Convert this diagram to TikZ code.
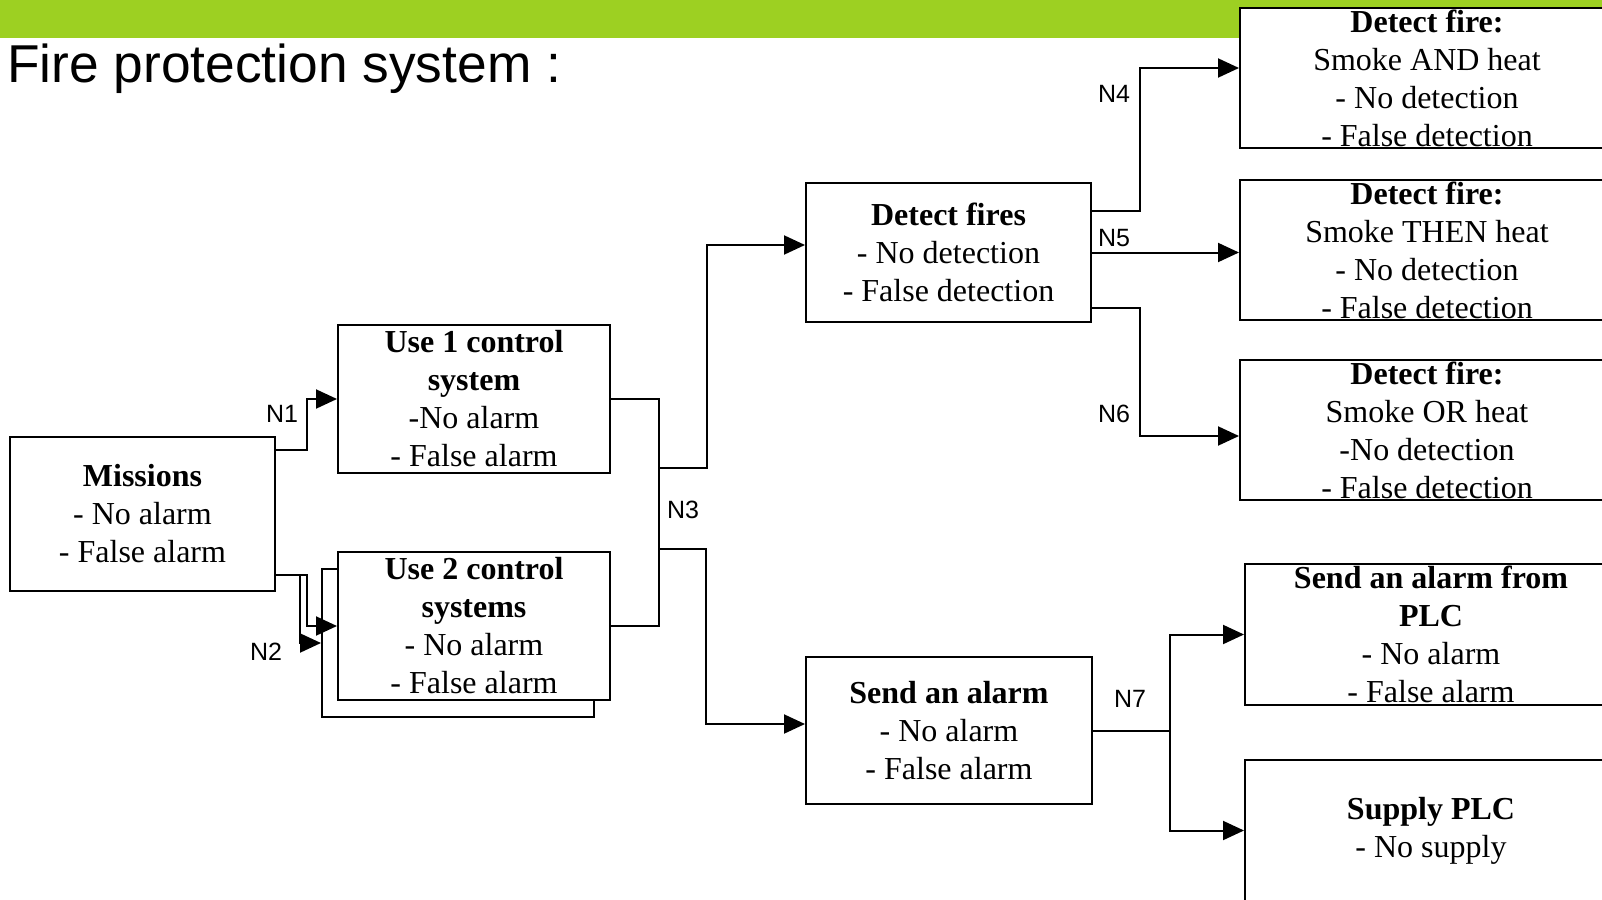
\documentclass[tikz,border=0pt]{standalone}
\usepackage{fontspec}
\setmainfont{Liberation Serif}
\newfontfamily\labelfont{Liberation Sans}
\usetikzlibrary{arrows.meta,calc}
\definecolor{barGreen}{RGB}{157,208,34}
\begin{document}
\begin{tikzpicture}[x=1pt,y=-1pt,
  box/.style={draw=black, line width=2pt, fill=white, inner sep=0pt},
  txt/.style={align=center, inner sep=0pt, font=\fontsize{32}{38}\selectfont},
  lbl/.style={font=\labelfont\fontsize{25}{30}\selectfont, inner sep=0pt},
  wire/.style={line width=2pt},
  arr/.style={wire, -{Triangle[length=21pt,width=19pt]}},
]
\useasboundingbox (0,0) rectangle (1602,899);
\clip (0,0) rectangle (1602,899);

% header bar and title
\fill[barGreen] (0,0) rectangle (1602,38);
\node[anchor=base west, inner sep=0pt, font=\labelfont\fontsize{53.3}{60}\selectfont] (title) at (7,82) {Fire protection system :};

% boxes
\node[box, minimum width=265, minimum height=154] (m) at (142.5,514) {};
\node[box, minimum width=272, minimum height=148] (u1) at (474,399) {};
\node[box, minimum width=272, minimum height=148] (u2b) at (458,643) {};
\node[box, minimum width=272, minimum height=148] (u2) at (474,626) {};
\node[box, minimum width=285, minimum height=139] (df) at (948.5,252.5) {};
\node[box, minimum width=286, minimum height=147] (sa) at (949,730.5) {};
\node[box, minimum width=374, minimum height=140] (r1) at (1427,78) {};
\node[box, minimum width=374, minimum height=140] (r2) at (1427,250) {};
\node[box, minimum width=374, minimum height=140] (r3) at (1427,430) {};
\node[box, minimum width=372, minimum height=141] (r4) at (1431,634.5) {};
\node[box, minimum width=372, minimum height=141] (r5) at (1431,830.5) {};

% box texts
\node[txt] (mt) at (m.center) {\textbf{Missions}\\- No alarm\\- False alarm};
\node[txt] (u1t) at (u1.center) {\textbf{Use 1 control}\\\textbf{system}\\-No alarm\\- False alarm};
\node[txt] (u2t) at (u2.center) {\textbf{Use 2 control}\\\textbf{systems}\\- No alarm\\- False alarm};
\node[txt] (dft) at (df.center) {\textbf{Detect fires}\\- No detection\\- False detection};
\node[txt] (sat) at (sa.center) {\textbf{Send an alarm}\\- No alarm\\- False alarm};
\node[txt] (r1t) at (r1.center) {\textbf{Detect fire:}\\Smoke AND heat\\- No detection\\- False detection};
\node[txt] (r2t) at (r2.center) {\textbf{Detect fire:}\\Smoke THEN heat\\- No detection\\- False detection};
\node[txt] (r3t) at (r3.center) {\textbf{Detect fire:}\\Smoke OR heat\\-No detection\\- False detection};
\node[txt] (r4t) at (r4.center) {\textbf{Send an alarm from}\\\textbf{PLC}\\- No alarm\\- False alarm};
\node[txt] (r5t) at (r5.center) {\textbf{Supply PLC}\\- No supply};

% junction points on the N3 bracket
\coordinate (j3up) at (658,468);
\coordinate (j3dn) at (658,549);

% connectors
\draw[arr] ($(m.north east)+(0,14)$) -- ++(31,0) |- (u1.west);
\draw[arr] ($(m.south east)+(0,-17)$) -- ++(24,0) |- (u2b.west);
\draw[arr] ($(m.south east)+(0,-17)$) -- ++(31,0) |- (u2.west);
\draw[wire] (u1.east) -- ++(48,0) |- (u2.east);
\draw[arr] (j3up) -- ++(49,0) |- ($(df.west)+(0,-7.5)$);
\draw[arr] (j3dn) -- ++(48,0) |- ($(sa.west)+(0,-6.5)$);
\draw[arr] ($(df.north east)+(0,29)$) -- ++(48,0) |- ($(r1.west)+(0,-10)$);
\draw[arr] (df.east) -- (df.east -| r2.west);
\draw[arr] ($(df.south east)+(0,-15)$) -- ++(48,0) |- ($(r3.west)+(0,6)$);
\draw[arr] (sa.east) -- ++(77,0) |- (r4.west);
\draw[arr] (sa.east) -- ++(77,0) |- (r5.west);

% connector labels
\node[lbl] (n1) at (282,414) {N1};
\node[lbl] (n2) at (266,652) {N2};
\node[lbl] (n3) at (683,510) {N3};
\node[lbl] (n4) at (1114,94) {N4};
\node[lbl] (n5) at (1114,238) {N5};
\node[lbl] (n6) at (1114,414) {N6};
\node[lbl] (n7) at (1130,699) {N7};
\end{tikzpicture}
\end{document}
